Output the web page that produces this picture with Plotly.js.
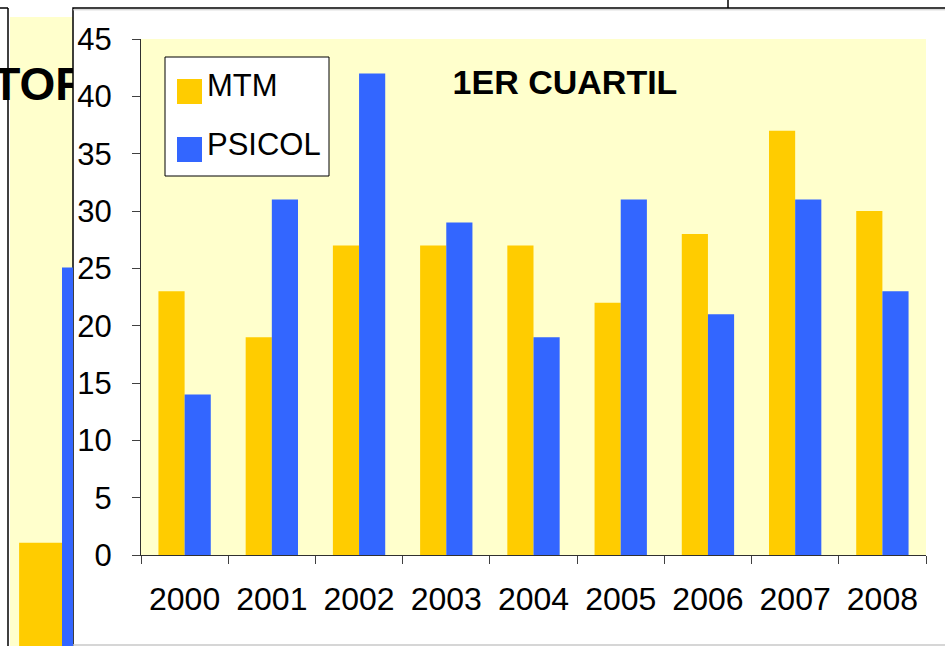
<!DOCTYPE html>
<html>
<head>
<meta charset="utf-8">
<script src="https://cdn.plot.ly/plotly-3.0.1.min.js"></script>
<style>html,body{margin:0;padding:0;background:#fff;}#chart{width:945px;height:646px;}</style>
</head>
<body>
<div id="chart"></div>
<script>
// ---- data ----
const years = ['2000','2001','2002','2003','2004','2005','2006','2007','2008'];
const mtm = [23, 19, 27, 27, 27, 22, 28, 37, 30];
const psicol = [14, 31, 42, 29, 19, 31, 21, 31, 23];
const seriesNames = ['MTM', 'PSICOL'];
const chartTitle = '1ER CUARTIL';
const yTicks = [0, 5, 10, 15, 20, 25, 30, 35, 40, 45];
// partially hidden chart behind
const bgCategory = [0];
const bgMtm = [9];
const bgPsicol = [33];
const bgTitle = 'TOR';

// ---- geometry helpers ----
const W = 945, H = 646;
const px = x => x / W;
const py = y => 1 - y / H;
const FONT = '"Liberation Sans", Arial, sans-serif';
const YEL = '#FFCC00', BLU = '#3366FF', BG = '#FFFFCC';

const traces = [
  {type: 'bar', x: years, y: mtm, name: seriesNames[0], marker: {color: YEL}, xaxis: 'x', yaxis: 'y'},
  {type: 'bar', x: years, y: psicol, name: seriesNames[1], marker: {color: BLU}, xaxis: 'x', yaxis: 'y'},
  {type: 'bar', x: bgCategory, y: bgMtm, marker: {color: YEL}, xaxis: 'x2', yaxis: 'y2'},
  {type: 'bar', x: bgCategory, y: bgPsicol, marker: {color: BLU}, xaxis: 'x2', yaxis: 'y2'},
  {type: 'scatter', mode: 'text', x: [-0.152], y: [48.6], text: [bgTitle], textposition: 'middle center',
   textfont: {family: FONT, size: 46, color: '#000', weight: 'bold'}, cliponaxis: true, xaxis: 'x2', yaxis: 'y2'}
];

const line = (x0, y0, x1, y1, color, w) => ({type: 'line', xref: 'paper', yref: 'paper',
  x0: px(x0), y0: py(y0), x1: px(x1), y1: py(y1), line: {color: color, width: w}, layer: 'below'});

const shapes = [
  // background chart area
  {type: 'rect', xref: 'paper', yref: 'paper', x0: px(10), x1: px(73), y0: py(17), y1: py(660),
   fillcolor: BG, line: {width: 0}, layer: 'below'},
  line(0, 8, 8, 8, '#000', 1.5),
  line(8, 8, 8, 660, '#000', 1.5),
  line(728, 0, 728, 8, '#000', 1.5),
  // front chart frame
  {type: 'rect', xref: 'paper', yref: 'paper', x0: px(73), x1: px(960), y0: py(8), y1: py(660),
   fillcolor: '#fff', line: {color: '#000', width: 1.5}, layer: 'below'},
  line(73, 9.8, 960, 9.8, '#c8c8c8', 1),
  line(73, 645, 960, 645, '#c8c8c8', 1.5),
  // plot area
  {type: 'rect', xref: 'x domain', yref: 'y domain', x0: 0, x1: 1, y0: 0, y1: 1,
   fillcolor: BG, line: {width: 0}, layer: 'below'},
  // legend
  {type: 'rect', xref: 'paper', yref: 'paper', x0: px(165), x1: px(329), y0: py(57), y1: py(176),
   fillcolor: '#fff', line: {color: '#000', width: 1}, layer: 'above'},
  {type: 'rect', xref: 'paper', yref: 'paper', x0: px(177), x1: px(202), y0: py(79), y1: py(104),
   fillcolor: YEL, line: {width: 0}, layer: 'above'},
  {type: 'rect', xref: 'paper', yref: 'paper', x0: px(177), x1: px(202), y0: py(137), y1: py(162),
   fillcolor: BLU, line: {width: 0}, layer: 'above'}
];

const annotations = [
  {xref: 'paper', yref: 'paper', x: px(205), y: py(86), xanchor: 'left', yanchor: 'middle', showarrow: false,
   text: seriesNames[0], font: {family: FONT, size: 31, color: '#000'}},
  {xref: 'paper', yref: 'paper', x: px(205), y: py(144), xanchor: 'left', yanchor: 'middle', showarrow: false,
   text: seriesNames[1], font: {family: FONT, size: 31, color: '#000'}}
];

const layout = {
  width: W, height: H,
  margin: {l: 0, r: 0, t: 0, b: 0, pad: 0},
  paper_bgcolor: '#fff',
  plot_bgcolor: 'rgba(0,0,0,0)',
  showlegend: false,
  barmode: 'group',
  bargap: 0.4,
  bargroupgap: 0,
  title: {text: '<b>' + chartTitle + '</b>', xref: 'paper', yref: 'paper', x: px(565), y: py(82),
          xanchor: 'center', yanchor: 'middle', font: {family: FONT, size: 34, color: '#000'}},
  xaxis: {domain: [px(141), px(926)], anchor: 'y', type: 'category', range: [-0.5, 8.5],
          tickson: 'boundaries', ticks: 'outside', ticklen: 8, tickcolor: '#404040', tickwidth: 1,
          showline: true, linecolor: '#303030', linewidth: 1, showgrid: false, zeroline: false,
          tickfont: {family: FONT, size: 32, color: '#000'}, ticklabelstandoff: 16, automargin: false,
          fixedrange: true},
  yaxis: {domain: [py(555), py(39)], anchor: 'x', range: [0, 45], tickmode: 'array', tickvals: yTicks,
          ticks: 'outside', ticklen: 8, tickcolor: '#404040', tickwidth: 1,
          showline: true, linecolor: '#303030', linewidth: 1, showgrid: false, zeroline: false,
          tickfont: {family: FONT, size: 31, color: '#000'}, ticklabelstandoff: 14, automargin: false,
          fixedrange: true},
  xaxis2: {domain: [0, px(73)], anchor: 'y2', type: 'linear', range: [-0.4336, 0.0769], visible: false, fixedrange: true},
  yaxis2: {domain: [0, py(17)], anchor: 'x2', range: [0, 54.85], visible: false, fixedrange: true},
  shapes: shapes,
  annotations: annotations
};

Plotly.newPlot('chart', traces, layout, {staticPlot: true, displayModeBar: false});
</script>
</body>
</html>
